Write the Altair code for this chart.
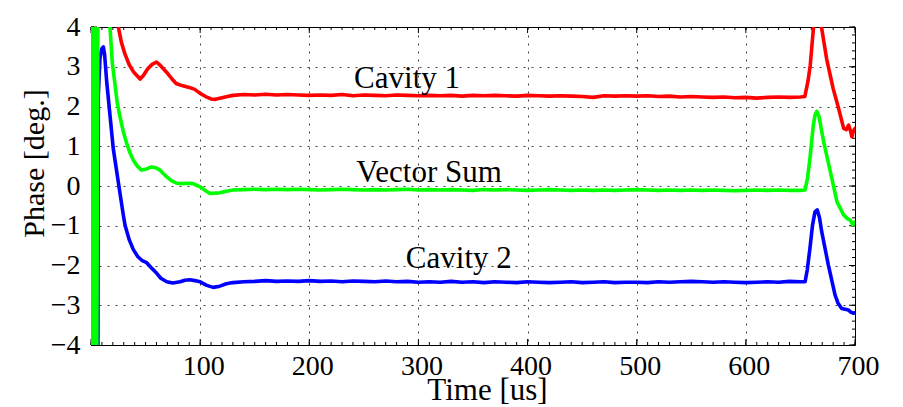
import altair as alt
import numpy as np
import pandas as pd

# Plot area size in pixels
W, H = 764, 318

# Common time grid for the flat-top part of the pulse (us)
grid_t = list(range(130, 651, 10))

# ---- Cavity 1 (red) ----
cav1_head_t = [20, 25, 28, 31, 35, 39, 42, 45, 48, 52, 56, 60, 64, 69, 74, 78,
               84, 90, 95, 100, 105, 110, 114, 120, 125]
cav1_head_p = [5.5, 4.0, 3.6, 3.33, 3.05, 2.87, 2.78, 2.69, 2.78, 2.95, 3.06, 3.12,
               3.02, 2.87, 2.70, 2.58, 2.52, 2.48, 2.43, 2.33, 2.25, 2.19, 2.18,
               2.22, 2.25]
cav1_flat_p = [2.28, 2.30, 2.29, 2.31, 2.29, 2.30, 2.29, 2.28, 2.29, 2.28,
               2.30, 2.27, 2.29, 2.28, 2.27, 2.29, 2.28, 2.27, 2.28, 2.27,
               2.28, 2.26, 2.28, 2.27, 2.28, 2.27, 2.26, 2.28, 2.27, 2.26,
               2.27, 2.26, 2.25, 2.23, 2.27, 2.26, 2.27, 2.26, 2.27, 2.25,
               2.26, 2.24, 2.25, 2.24, 2.23, 2.24, 2.22, 2.23, 2.21, 2.23,
               2.24, 2.23, 2.24]
cav1_tail_t = [654, 657, 659, 662, 664.5, 667, 669.5, 674, 680, 685, 689.6, 692,
               694.2, 695.7, 697.2, 698.5, 700]
cav1_tail_p = [2.25, 2.65, 3.04, 4.0, 4.6, 4.4, 3.96, 3.2, 2.45, 1.95, 1.45, 1.42,
               1.53, 1.40, 1.24, 1.38, 1.45]

# ---- Vector Sum (green) ----
vsum_head_t = [0.5, 1.6, 2.8, 4.0, 5.2, 6.4, 12, 17.4, 19.5, 21.9, 24, 26.6, 29.5,
               32.7, 35.5, 38.8, 42.5, 46.4, 51, 55.6, 59.5, 63.2, 66, 69.4, 74,
               78.5, 84, 88, 93.5, 100, 104, 109, 114, 118, 124]
vsum_head_p = [-5, 5, -5, 5, -5, 5, 6.5, 4.0, 3.1, 2.58, 2.1, 1.74, 1.38, 1.07,
               0.85, 0.65, 0.5, 0.40, 0.43, 0.48, 0.46, 0.40, 0.32, 0.23, 0.13,
               0.07, 0.06, 0.07, 0.06, -0.02, -0.10, -0.19, -0.18, -0.17, -0.13]
vsum_flat_p = [-0.10, -0.09, -0.08, -0.09, -0.08, -0.09, -0.08, -0.09, -0.10, -0.09,
               -0.08, -0.09, -0.10, -0.09, -0.10, -0.09, -0.08, -0.10, -0.09, -0.10,
               -0.09, -0.10, -0.11, -0.09, -0.10, -0.09, -0.10, -0.11, -0.10, -0.09,
               -0.10, -0.11, -0.10, -0.11, -0.10, -0.11, -0.10, -0.09, -0.10, -0.11,
               -0.10, -0.11, -0.10, -0.11, -0.10, -0.11, -0.12, -0.11, -0.10, -0.11,
               -0.10, -0.11, -0.11]
vsum_tail_t = [654.3, 656.5, 658.7, 661.8, 663.5, 665, 667, 671.3, 677.4, 683.5,
               689.6, 693, 695.7, 698, 700]
vsum_tail_p = [-0.10, 0.2, 0.69, 1.53, 1.8, 1.88, 1.75, 1.11, 0.36, -0.40, -0.73,
               -0.82, -0.86, -0.98, -0.90]

# ---- Cavity 2 (blue) ----
cav2_head_t = [6.3, 6.7, 8.2, 9.8, 11.3, 12.5, 14.4, 17.4, 20.4, 25, 29.6, 31.2, 35,
               38.8, 43, 47, 51, 55, 60, 64, 69.4, 75, 81.6, 86, 90.7, 95, 100, 106,
               112, 118, 124]
cav2_head_p = [-5, 2.3, 3.2, 3.45, 3.5, 3.3, 2.62, 1.78, 0.94, 0.1, -0.73, -0.99,
               -1.35, -1.6, -1.78, -1.88, -1.93, -2.05, -2.19, -2.32, -2.41, -2.44,
               -2.41, -2.37, -2.36, -2.38, -2.41, -2.5, -2.55, -2.52, -2.46]
cav2_flat_p = [-2.43, -2.41, -2.40, -2.38, -2.40, -2.39, -2.40, -2.38, -2.40, -2.39,
               -2.41, -2.39, -2.40, -2.41, -2.39, -2.41, -2.40, -2.42, -2.41, -2.42,
               -2.40, -2.42, -2.41, -2.43, -2.41, -2.42, -2.43, -2.41, -2.42, -2.43,
               -2.42, -2.41, -2.43, -2.42, -2.41, -2.43, -2.42, -2.42, -2.43, -2.41,
               -2.42, -2.41, -2.40, -2.41, -2.42, -2.41, -2.42, -2.43, -2.42, -2.41,
               -2.42, -2.40, -2.41]
cav2_tail_t = [654.3, 656.3, 658.7, 661, 663.3, 665.4, 667.5, 669.5, 675.6, 681.7,
               684.5, 687.8, 691, 694, 696.5, 698.7, 700]
cav2_tail_p = [-2.41, -2.1, -1.57, -1.0, -0.65, -0.6, -0.8, -1.15, -1.99, -2.74,
               -2.95, -3.08, -3.1, -3.12, -3.18, -3.2, -3.19]

# Axis tick values
x_tick_values = [100, 200, 300, 400, 500, 600, 700]
y_tick_values = [-4, -3, -2, -1, 0, 1, 2, 3, 4]


def trace_frame(head_t, head_p, flat_p, tail_t, tail_p):
    t = head_t + grid_t + tail_t
    p = head_p + flat_p + tail_p
    assert len(t) == len(p)
    return pd.DataFrame({"t": t, "p": p})


cav1 = trace_frame(cav1_head_t, cav1_head_p, cav1_flat_p, cav1_tail_t, cav1_tail_p)
vsum = trace_frame(vsum_head_t, vsum_head_p, vsum_flat_p, vsum_tail_t, vsum_tail_p)
cav2 = trace_frame(cav2_head_t, cav2_head_p, cav2_flat_p, cav2_tail_t, cav2_tail_p)

FONT = "Liberation Serif"

x_scale = alt.Scale(domain=[0, 700], nice=False, zero=False)
y_scale = alt.Scale(domain=[-4, 4], nice=False, zero=False)

grid_style = dict(grid=True, gridColor="black", gridOpacity=0.75, gridWidth=1,
                  gridDash=[2, 6], ticks=False, tickSize=0, domain=False,
                  labelFont=FONT, labelFontSize=28, labelColor="black",
                  labelFlush=False, labelOverlap=False, labelBound=False,
                  titleFont=FONT, titleFontWeight="normal",
                  titleColor="black", titleBaseline="alphabetic")

x_axis = alt.Axis(values=x_tick_values, labelPadding=7, labelOffset=3, titleX=396,
                  titleY=54, titleFontSize=31, **grid_style)
y_axis = alt.Axis(values=y_tick_values, labelPadding=11, titleX=-48, titleY=136,
                  titleAlign="center", titleFontSize=30, **grid_style)


def X():
    return alt.X("t:Q", scale=x_scale, axis=x_axis, title="Time [us]")


def Y():
    return alt.Y("p:Q", scale=y_scale, axis=y_axis, title="Phase [deg.]")


def trace(df, color):
    return alt.Chart(df).mark_line(
        color=color, strokeWidth=3.6, clip=True, strokeJoin="round", strokeCap="round"
    ).encode(x=X(), y=Y())


# Inward-pointing ticks on all four sides of the box
def x_ticks(values, length):
    base = alt.Chart(pd.DataFrame({"t": values})).mark_rule(color="black", strokeWidth=1)
    return [
        base.encode(x=X(), y=alt.value(H), y2=alt.value(H - length)),
        base.encode(x=X(), y=alt.value(0), y2=alt.value(length)),
    ]


def y_ticks(values, length):
    base = alt.Chart(pd.DataFrame({"p": values})).mark_rule(color="black", strokeWidth=1)
    return [
        base.encode(y=Y(), x=alt.value(0), x2=alt.value(length)),
        base.encode(y=Y(), x=alt.value(W), x2=alt.value(W - length)),
    ]


ticks = (
    x_ticks(list(range(0, 701, 10)), 3)
    + x_ticks(list(range(0, 701, 100)), 6)
    + y_ticks([round(v, 1) for v in np.arange(-4, 4.01, 0.2)], 3)
    + y_ticks(list(range(-4, 5)), 6)
)

labels = pd.DataFrame({
    "t": [289.6, 309.8, 337.0],
    "p": [2.46, 0.106, -2.06],
    "label": ["Cavity 1", "Vector Sum", "Cavity 2"],
})
text = alt.Chart(labels).mark_text(
    font=FONT, fontSize=31, align="center", baseline="alphabetic", color="black"
).encode(x=X(), y=Y(), text="label:N")

chart = alt.layer(
    *ticks,
    trace(cav1, "#ff0000"),
    trace(cav2, "#0000ff"),
    trace(vsum, "#00ff00"),
    text,
).properties(
    width=W,
    height=H,
    background="white",
    autosize=alt.AutoSizeParams(type="none"),
    padding={"left": 91, "top": 27, "right": 48, "bottom": 62},
).configure_view(stroke="black", strokeWidth=1)

chart.save("out.html", embed_options={"renderer": "svg", "actions": False})
